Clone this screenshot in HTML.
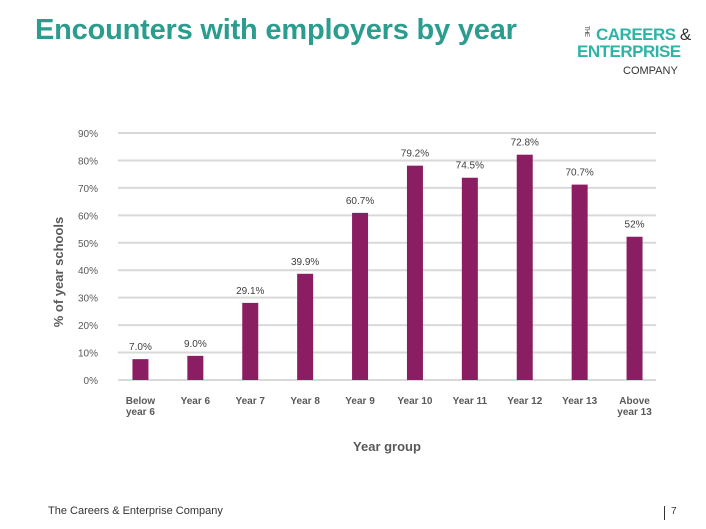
<!DOCTYPE html>
<html><head><meta charset="utf-8">
<style>
body{margin:0;width:706px;height:529px;background:#fff;overflow:hidden;font-family:"Liberation Sans",sans-serif;position:relative}
#title{position:absolute;left:35px;top:14px;font-size:29px;font-weight:bold;color:#2a9d8f;letter-spacing:-0.2px}
#logo{position:absolute;left:577px;top:26px;color:#2fb3a6;font-weight:bold;font-size:17px;line-height:17px;letter-spacing:-0.5px}
#footer{position:absolute;left:48px;top:505px;font-size:11px;color:#333}
#page{position:absolute;left:664px;top:506px;font-size:10px;color:#333;border-left:1px solid #333;padding-left:6px;height:14px}
svg{position:absolute;left:0;top:0}
</style></head><body>
<div id="title">Encounters with employers by year</div>
<div id="logo"><span style="font-size:6px;writing-mode:vertical-rl;vertical-align:top;color:#333;font-weight:normal;margin-right:2px">THE</span>CAREERS<span style="font-weight:normal;color:#333"> &amp;</span><br>ENTERPRISE<br><span style="font-weight:normal;color:#333;font-size:11px;letter-spacing:0;margin-left:46px">COMPANY</span></div>
<svg id="chart" width="706" height="529"></svg>
<div id="footer">The Careers &amp; Enterprise Company</div>
<div id="page">7</div>
<script>
const categories=[["Below","year 6"],["Year 6"],["Year 7"],["Year 8"],["Year 9"],["Year 10"],["Year 11"],["Year 12"],["Year 13"],["Above","year 13"]];
const values=[7.6,8.8,28.1,38.7,60.9,78.1,73.7,82.1,71.2,52.2];
const valueLabels=["7.0%","9.0%","29.1%","39.9%","60.7%","79.2%","74.5%","72.8%","70.7%","52%"];
const ticks=[0,10,20,30,40,50,60,70,80,90];
const NS="http://www.w3.org/2000/svg",svg=document.getElementById('chart');
const x0=113,x1=662,yBase=380,yTop=133;
const y=v=>yBase-(v/90)*(yBase-yTop);
const step=(x1-x0)/categories.length;
const xc=i=>x0+step*(i+0.5);
function mk(t,a,txt){const e=document.createElementNS(NS,t);for(const k in a)e.setAttribute(k,a[k]);if(txt!==undefined)e.textContent=txt;svg.appendChild(e);return e;}
ticks.forEach(t=>{
 const g=mk('line',{x1:118,x2:656,y1:y(t),y2:y(t),stroke:'#d9d9d9','stroke-width':2});
 
 
 const l=mk('text',{x:98,y:y(t)+4,'text-anchor':'end','font-size':10,fill:'#595959'},t+'%');
 
 
});
values.forEach((v,i)=>{
 const b=mk('rect',{x:xc(i)-8,y:y(v),width:16,height:yBase-y(v),fill:'#8b1e62'});
 
 
 const t=mk('text',{x:xc(i),y:y(v)-9,'text-anchor':'middle','font-size':10,fill:'#404040'},valueLabels[i]);
 
 
 categories[i].forEach((s,j)=>{
  const c=mk('text',{x:xc(i),y:404+j*11,'text-anchor':'middle','font-size':10,'font-weight':'bold',fill:'#595959'},s);
  
  
 });
});
const xt=mk('text',{x:387,y:451,'text-anchor':'middle','font-size':13,'font-weight':'bold',fill:'#595959'},'Year group');


const yt=mk('text',{x:63,y:272,'text-anchor':'middle','font-size':13,'font-weight':'bold',fill:'#595959',transform:'rotate(-90 63 272)'},'% of year schools');


</script>
</body></html>
